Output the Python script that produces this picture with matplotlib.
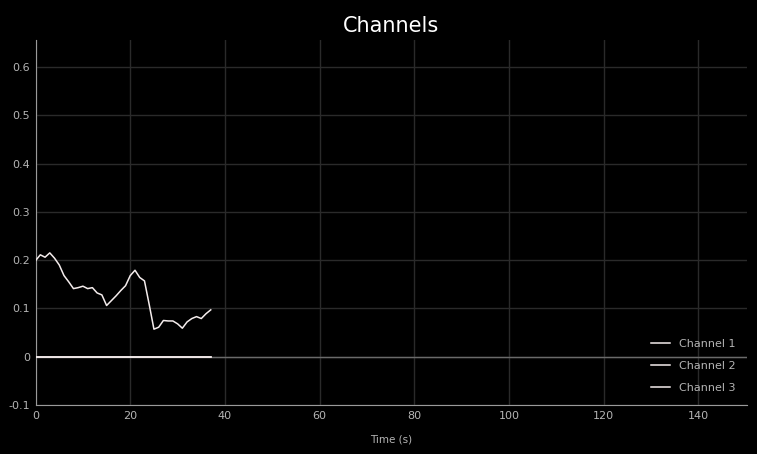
import numpy as np
import matplotlib.pyplot as plt

time_s = list(range(38))
channel_1 = [0.199, 0.211, 0.206, 0.215, 0.204, 0.190, 0.168, 0.155, 0.141, 0.143,
             0.146, 0.141, 0.143, 0.132, 0.128, 0.106, 0.116, 0.126, 0.137, 0.147,
             0.168, 0.179, 0.164, 0.157, 0.108, 0.057, 0.061, 0.075, 0.074, 0.074,
             0.068, 0.059, 0.072, 0.079, 0.083, 0.079, 0.089, 0.097]
channel_2 = [0.0] * 38
channel_3 = [0.0] * 38
labels = ["Channel 1", "Channel 2", "Channel 3"]

fig = plt.figure(figsize=(7.57, 4.54), dpi=100, facecolor="black")
ax = fig.add_axes([0.047, 0.108, 0.94, 0.804], facecolor="black")

ax.axhline(0, color="#6a6a6a", lw=1, zorder=1)
for ys, lab in zip([channel_1, channel_2, channel_3], labels):
    ax.plot(time_s, ys, color="#f4ecec", lw=1.1, label=lab, zorder=3)

ax.set_xlim(0, 150.3)
ax.set_ylim(-0.1, 0.656)
ax.set_xticks(range(0, 141, 20))
ax.set_yticks([-0.1, 0, 0.1, 0.2, 0.3, 0.4, 0.5, 0.6])
ax.set_yticklabels(["-0.1", "0", "0.1", "0.2", "0.3", "0.4", "0.5", "0.6"])
ax.grid(True, color="#2a2a2a", lw=1)
ax.set_axisbelow(True)

for side in ["top", "right"]:
    ax.spines[side].set_visible(False)
for side in ["left", "bottom"]:
    ax.spines[side].set_color("#9a9a9a")
ax.tick_params(colors="#b4b4b4", labelsize=8, length=0, pad=4)

ax.set_xlabel("Time (s)", color="#b4b4b4", fontsize=7.5, labelpad=10)
ax.set_title("Channels", color="white", fontsize=15, pad=6)

leg = ax.legend(loc="lower right", frameon=False, fontsize=8, labelcolor="#b4b4b4",
                handlelength=1.7, labelspacing=1.08, bbox_to_anchor=(0.998, 0.006))

fig.savefig("out.png", facecolor="black")
